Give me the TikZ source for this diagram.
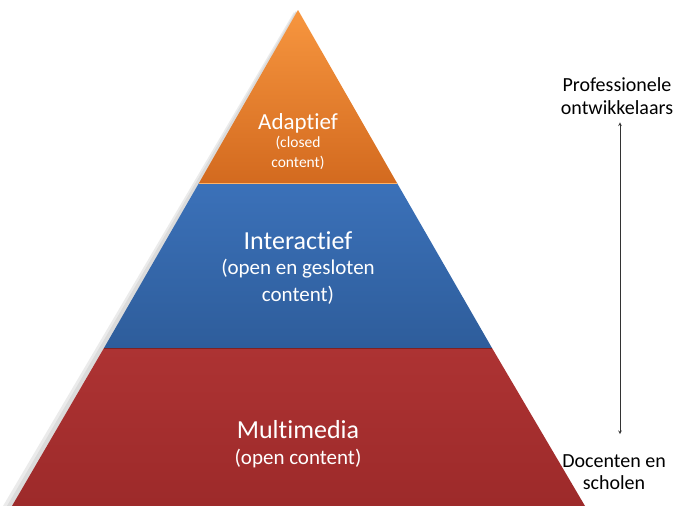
\documentclass[tikz,border=0pt]{standalone}
\usepackage{fontspec}
\setmainfont{Carlito}[Ligatures=NoCommon]
\usepackage{xcolor}
\usepackage{tikz}
\usetikzlibrary{arrows,positioning,calc}

\definecolor{adaptTop}{HTML}{F7963F}
\definecolor{adaptBot}{HTML}{D36A1F}
\definecolor{interTop}{HTML}{3B71B9}
\definecolor{interBot}{HTML}{2E5D9B}
\definecolor{multiTop}{HTML}{AD3333}
\definecolor{multiBot}{HTML}{9D2A2A}

\begin{document}
\begin{tikzpicture}[
    x=1pt, y=-1pt,
    layer/.style={text=white, align=center, inner sep=0pt, font=\fontsize{26}{29}\selectfont},
    sub/.style={text=white, align=center, inner sep=0pt, font=\fontsize{21}{27}\selectfont},
    side/.style={text=black, align=center, inner sep=0pt, font=\fontsize{20}{22.5}\selectfont},
    arrow/.style={<->, >=stealth, semithick, draw=black!80}
]
    \useasboundingbox (0,0) rectangle (678,506);

    % Pyramid corners
    \coordinate (top) at (298,10);
    \coordinate (al) at (199,183);
    \coordinate (ar) at (397,183);
    \coordinate (il) at (104,348);
    \coordinate (ir) at (492,348);
    \coordinate (bl) at (12,506);
    \coordinate (br) at (585,506);

    % Shadow
    \fill[black!8] ($(top)+(-4,2)$) -- ($(bl)+(-9,0)$) -- ($(br)+(-9,0)$) -- cycle;
    \fill[black!14] ($(top)+(-2,1)$) -- ($(bl)+(-5,0)$) -- ($(br)+(-5,0)$) -- cycle;

    % Layers
    \shade[top color=adaptTop, bottom color=adaptBot] (top) -- (al) -- (ar) -- cycle;
    \shade[top color=interTop, bottom color=interBot] (al) -- (il) -- (ir) -- (ar) -- cycle;
    \shade[top color=multiTop, bottom color=multiBot] (il) -- (bl) -- (br) -- (ir) -- cycle;
    \draw[orange!60!white, thick] (al) -- (ar);
    \draw[multiBot!80!black, thick] (il) -- (ir);

    % Labels in the pyramid
    \node[layer, font=\fontsize{23}{26}\selectfont] (adapt) at (298,123) {Adaptief};
    \node[sub, font=\fontsize{15.5}{19.5}\selectfont] (adaptsub) at (298,153) {(closed\\content)};
    \node[layer] (inter) at (298,241) {Interactief};
    \node[sub] (intersub) at (298,282) {(open en gesloten\\content)};
    \node[layer] (multi) at (298,430) {Multimedia};
    \node[sub] (multisub) at (298,459) {(open content)};

    % Side scale
    \node[side] (prof) at (617,96) {Professionele\\ontwikkelaars};
    \node[side] (doc) at (614,472) {Docenten en\\scholen};
    \draw[arrow] ($(prof.south)+(3,8)$) -- ($(doc.north)+(6,-20)$);
\end{tikzpicture}
\end{document}
